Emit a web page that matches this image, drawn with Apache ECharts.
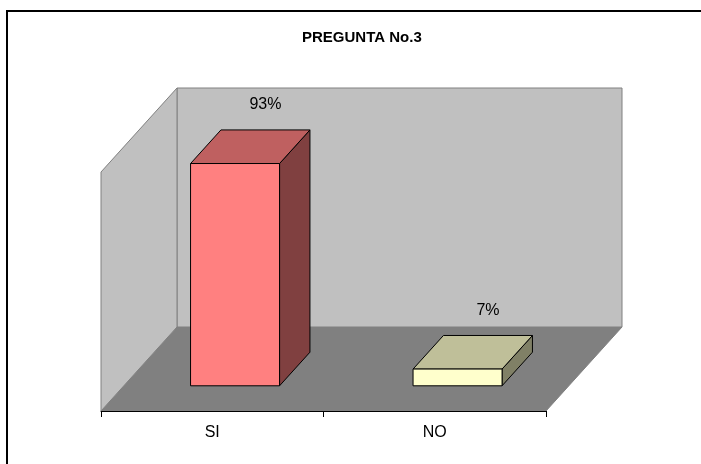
<!DOCTYPE html>
<html>
<head>
<meta charset="utf-8">
<title>PREGUNTA No.3</title>
<script src="https://cdn.jsdelivr.net/npm/echarts@6/dist/echarts.min.js"></script>
<style>
  html, body { margin: 0; padding: 0; background: #ffffff; }
  #chart { width: 701px; height: 464px; }
</style>
</head>
<body>
<div id="chart"></div>
<script>
// Answers to question 3 (share of respondents)
const categories = ['SI', 'NO'];
const shares = [0.93, 0.07];
const titleText = 'PREGUNTA No.3';

// Oblique 3D look: full depth of the floor in pixels, and the bar slab
// occupying the middle 40% of that depth (front at 30%, back at 70%).
const DEPTH_X = 76;
const DEPTH_Y = 84;
const BAR_FRONT = 0.3;
const BAR_BACK = 0.7;
const BAR_WIDTH_RATIO = 0.4;

const FONT = '"Liberation Sans", Arial, sans-serif';

const barColors = [
  { front: '#FF8080', top: '#BF6060', side: '#804040' },
  { front: '#FFFFCC', top: '#BFBF99', side: '#808066' }
];

const chart = echarts.init(document.getElementById('chart'), null, { renderer: 'canvas' });

function renderWalls(params, api) {
  const cs = params.coordSys;
  const x0 = cs.x;
  const x1 = cs.x + cs.width;
  const yBot = api.coord([0, 0])[1];
  const yTop = api.coord([0, 1])[1];
  const wallStyle = { fill: '#C0C0C0', stroke: '#808080', lineWidth: 1 };
  return {
    type: 'group',
    children: [
      {
        type: 'polygon',
        shape: { points: [[x0, yBot], [x0 + DEPTH_X, yBot - DEPTH_Y], [x1 + DEPTH_X, yBot - DEPTH_Y], [x1, yBot]] },
        style: { fill: '#808080', stroke: '#808080', lineWidth: 1 }
      },
      {
        type: 'polygon',
        shape: { points: [[x0 + DEPTH_X, yTop - DEPTH_Y], [x1 + DEPTH_X, yTop - DEPTH_Y], [x1 + DEPTH_X, yBot - DEPTH_Y], [x0 + DEPTH_X, yBot - DEPTH_Y]] },
        style: wallStyle
      },
      {
        type: 'polygon',
        shape: { points: [[x0, yTop], [x0 + DEPTH_X, yTop - DEPTH_Y], [x0 + DEPTH_X, yBot - DEPTH_Y], [x0, yBot]] },
        style: wallStyle
      }
    ]
  };
}

function renderBar(params, api) {
  const idx = api.value(0);
  const val = api.value(1);
  const base = api.coord([idx, 0]);
  const top = api.coord([idx, val]);
  const band = api.size([1, 0])[0];
  const w = band * BAR_WIDTH_RATIO;
  const fx = DEPTH_X * BAR_FRONT, fy = DEPTH_Y * BAR_FRONT;
  const bx = DEPTH_X * BAR_BACK, by = DEPTH_Y * BAR_BACK;
  const l = base[0] - w / 2, r = base[0] + w / 2;
  const yb = base[1], yt = top[1];
  const c = barColors[params.dataIndex % barColors.length];
  const edge = { stroke: '#000000', lineWidth: 1 };
  return {
    type: 'group',
    children: [
      {
        type: 'polygon',
        shape: { points: [[r + fx, yt - fy], [r + bx, yt - by], [r + bx, yb - by], [r + fx, yb - fy]] },
        style: Object.assign({ fill: c.side }, edge)
      },
      {
        type: 'polygon',
        shape: { points: [[l + fx, yt - fy], [l + bx, yt - by], [r + bx, yt - by], [r + fx, yt - fy]] },
        style: Object.assign({ fill: c.top }, edge)
      },
      {
        type: 'rect',
        shape: { x: l + fx, y: yt - fy, width: w, height: yb - yt },
        style: Object.assign({ fill: c.front }, edge)
      },
      {
        type: 'text',
        style: {
          text: Math.round(val * 100) + '%',
          x: base[0] + bx,
          y: yt - by - 25,
          align: 'center',
          verticalAlign: 'middle',
          font: '16px ' + FONT,
          fill: '#000000'
        }
      }
    ]
  };
}

chart.setOption({
  backgroundColor: '#ffffff',
  animation: false,
  title: {
    text: titleText,
    left: 302,
    top: 30,
    padding: 0,
    textStyle: { fontFamily: FONT, fontSize: 15, fontWeight: 'bold', color: '#000000' }
  },
  grid: { left: 101, top: 172, width: 445, height: 239, containLabel: false },
  xAxis: {
    type: 'category',
    data: categories,
    boundaryGap: true,
    z: 10,
    axisLine: { show: true, lineStyle: { color: '#000000', width: 1 } },
    axisTick: { show: true, length: 6, alignWithLabel: false, lineStyle: { color: '#000000' } },
    axisLabel: { margin: 14, color: '#000000', fontFamily: FONT, fontSize: 16 },
    splitLine: { show: false }
  },
  yAxis: {
    type: 'value',
    min: 0,
    max: 1,
    show: false,
    splitLine: { show: false }
  },
  series: [
    {
      type: 'custom',
      name: 'walls',
      z: 1,
      silent: true,
      renderItem: renderWalls,
      data: [[0, 0]],
      encode: { x: 0, y: 1 }
    },
    {
      type: 'custom',
      name: 'PREGUNTA No.3',
      z: 3,
      renderItem: renderBar,
      data: categories.map((c, i) => [i, shares[i]]),
      encode: { x: 0, y: 1 }
    }
  ],
  graphic: [
    {
      type: 'polyline',
      silent: true,
      z: 100,
      shape: { points: [[7, 470], [7, 11], [720, 11]] },
      style: { stroke: '#000000', lineWidth: 2, fill: null }
    }
  ]
});
</script>
</body>
</html>
